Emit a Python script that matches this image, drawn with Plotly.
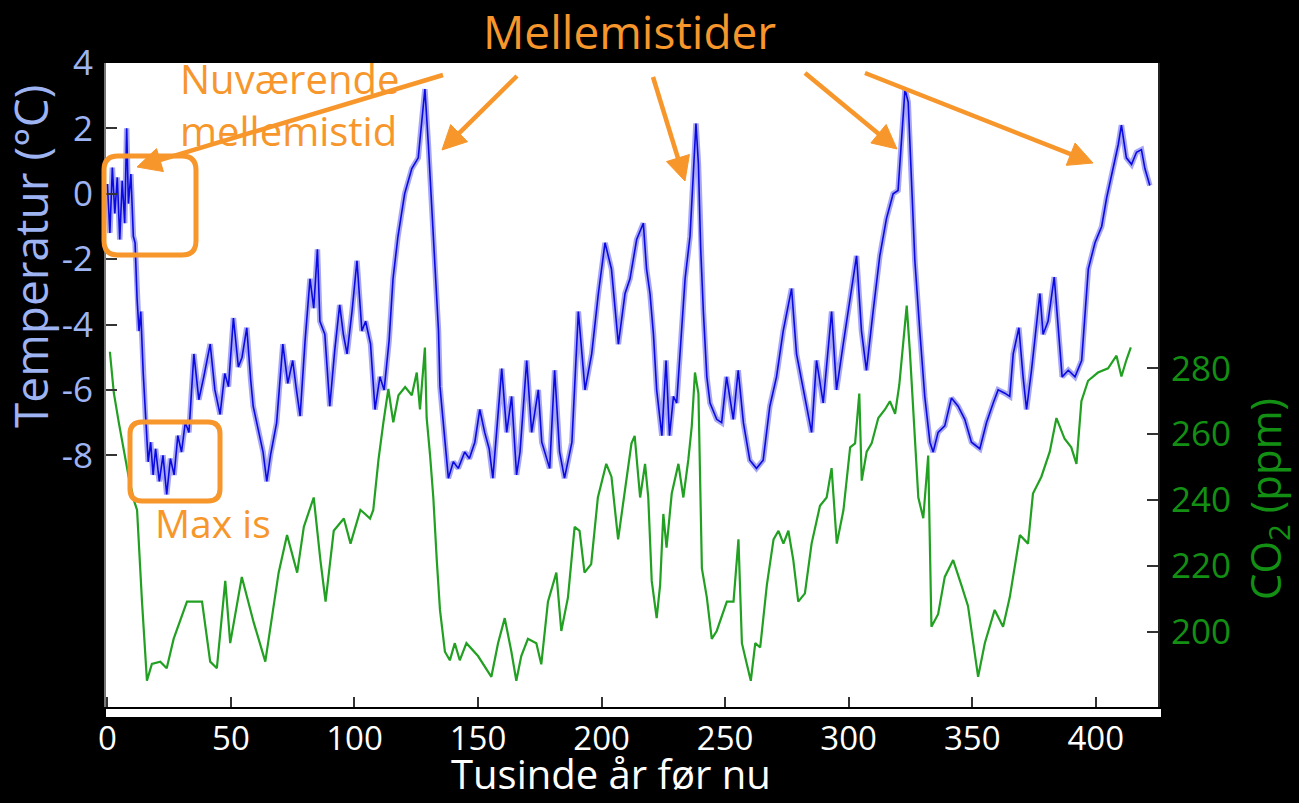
import math
import plotly.graph_objects as go

# Vostok ice core: temperature anomaly (°C) vs. thousands of years before present
temp_age = [0, 1, 2, 3, 4, 5, 6, 7, 7.8, 8.5, 9.5, 10.5, 11.2, 12, 12.8, 13.5, 14.5, 15.5,
            16.5, 17.5, 18.5, 19.5, 21, 22.5, 24, 25.5, 27, 28.5, 30, 31.5, 33, 35, 37, 39,
            41.6, 43.5, 45.6, 47.5, 49, 51, 53, 54.5, 56.4, 58, 59, 61, 63, 64.5, 66, 68.5,
            71, 73, 75, 76.5, 78, 80, 82, 83.5, 85, 86, 88, 90, 92, 94, 95.5, 97, 99, 101,
            103, 104.5, 106.5, 108.3, 110.3, 112, 114, 115.6, 117.6, 120.3, 123.2, 125.8,
            127.3, 128.5, 129.9, 131.2, 132.5, 134, 134.6, 136, 138, 140, 142, 144.6, 146.5,
            148.7, 150.7, 152.7, 154.5, 156, 158, 159.6, 161.6, 163.6, 165.6, 167, 169.7,
            171.7, 174.4, 175.8, 179, 181, 183, 185, 188, 190.6, 193.3, 196, 198.7, 201.4,
            204, 206.8, 209.5, 211.5, 214.2, 216.9, 218.2, 219.6, 221, 222.3, 224.4, 226.1,
            227.5, 229.1, 230.4, 231.8, 233.8, 235.8, 237.2, 238.2, 239.2, 240.1, 241.2,
            242.6, 243.9, 246.6, 248.6, 250.6, 253.3, 255.3, 257.4, 260, 262.7, 265.4, 268.1,
            270.8, 273.5, 276.9, 278.9, 281.6, 285, 287, 289.7, 293.1, 295.1, 297.8, 300.5,
            303.2, 305.2, 307.2, 309.9, 312.6, 315.3, 318, 320, 321.4, 322.8, 324.1, 325.5,
            326.8, 328.8, 330.8, 332.9, 334.2, 336.2, 338.9, 341.6, 344.3, 347, 349.7, 353.1,
            355.8, 358.5, 360.5, 363.2, 365.2, 366.6, 368.9, 370.6, 372, 374, 376, 377.4,
            378.7, 380.7, 383.2, 384.8, 386.4, 388.9, 391.6, 394.3, 395.6, 397, 399.7, 402.4,
            404.4, 407.1, 409.1, 410.4, 412.4, 414.5, 416.5, 418.5, 419.9, 421.9]
temp_c = [0.3, -1.2, 0.8, -0.6, 0.5, -1.4, 0.4, -0.9, 2.0, -0.3, 0.6, -1.3, -1.5, -3.2, -4.2,
          -3.6, -5.5, -7.0, -8.2, -7.6, -8.6, -7.8, -8.8, -8.0, -9.2, -8.1, -8.6, -7.4, -7.9,
          -7.0, -7.3, -4.9, -6.3, -5.6, -4.6, -6.0, -6.75, -5.5, -5.9, -3.8, -5.3, -5.0, -4.1,
          -5.7, -6.5, -7.2, -7.9, -8.8, -8.0, -7.0, -4.6, -5.8, -5.1, -6.0, -6.8, -4.5, -2.6,
          -3.5, -1.7, -3.9, -4.3, -6.5, -4.8, -3.4, -4.3, -4.9, -3.6, -2.05, -4.2, -3.9, -4.6,
          -6.6, -5.6, -6.0, -4.5, -2.6, -1.3, 0.0, 0.77, 1.1, 2.3, 3.2, 1.5, -0.3, -2.3, -4.2,
          -5.9, -7.1, -8.7, -8.2, -8.4, -7.9, -8.1, -7.6, -6.6, -7.3, -7.8, -8.7, -6.9, -5.35,
          -7.3, -6.2, -8.6, -7.9, -5.1, -7.3, -6.0, -7.6, -8.4, -5.4, -7.9, -8.7, -7.6, -3.6,
          -6.0, -4.9, -3.05, -1.5, -2.3, -4.6, -3.05, -2.6, -1.4, -0.9, -2.3, -3.05, -4.3,
          -6.0, -7.4, -5.1, -7.4, -6.2, -6.4, -4.9, -2.6, -1.3, 0.5, 2.15, 0.9, -1.65, -3.6,
          -5.6, -6.4, -6.9, -7.0, -5.6, -6.9, -5.4, -7.0, -8.15, -8.4, -8.15, -6.5, -5.6,
          -4.2, -2.9, -4.9, -6.0, -7.3, -5.1, -6.4, -3.6, -6.0, -4.6, -3.3, -1.9, -4.2, -5.4,
          -3.6, -1.9, -0.76, 0.0, 0.1, 1.5, 3.2, 2.8, 0.3, -2.05, -4.2, -6.2, -7.6, -7.9,
          -7.3, -7.1, -6.25, -6.5, -6.9, -7.6, -7.8, -7.0, -6.4, -6.0, -6.1, -6.2, -4.9, -4.1,
          -5.6, -6.6, -5.4, -3.9, -3.05, -4.3, -3.9, -2.55, -4.1, -5.6, -5.4, -5.6, -5.1,
          -3.6, -2.3, -1.5, -1.0, -0.13, 0.77, 1.5, 2.1, 1.1, 0.9, 1.27, 1.35, 0.77, 0.25]

# CO2 concentration (ppm)
co2_age = [1, 2.6, 4.6, 6.6, 8.6, 10.7, 12, 14, 16, 18, 21.4, 24, 26.8, 32.2, 38.3, 41.6, 44.3,
           47.7, 49.7, 54.4, 59.2, 63.9, 69.3, 72.7, 76.8, 79.5, 83.5, 86.2, 88.3, 91.6, 95.7,
           98.4, 102.4, 104.3, 106.3, 107.6, 109.7, 111.7, 113.7, 115.7, 117.8, 120.5, 123.2,
           125.2, 126.5, 128.5, 129.2, 130.6, 131.9, 133.3, 134.6, 136.6, 138.6, 140.6, 142.6,
           145.3, 150, 155.4, 158.1, 160.8, 163.5, 165.5, 167.5, 170.2, 173.6, 175.6, 178.3,
           181.7, 183.7, 186.4, 189.1, 191.1, 193.1, 195.8, 198.5, 201.9, 204, 206.7, 209.4,
           212.1, 213.4, 215.6, 217.6, 218.9, 220.3, 222.3, 223.7, 225, 226.3, 228.4, 231.1,
           233.1, 235.1, 236.5, 237.8, 239.2, 240.6, 242.6, 244.6, 246.6, 250.7, 253.4, 255.4,
           256.8, 258.8, 260.4, 262.2, 264.2, 266.9, 269.6, 271.6, 273.6, 275.6, 277.6, 279.6,
           282.3, 285, 288.4, 291.1, 293.1, 295.2, 297.9, 300.6, 302.6, 304.3, 305.3, 307.3,
           309.3, 312, 314.7, 316.7, 318.8, 320.5, 322.1, 323.5, 324.8, 326.2, 328.2, 330.2,
           332.2, 333.5, 336.2, 338.9, 342.3, 345.6, 348.3, 352.4, 355.1, 359.1, 362.5, 365.2,
           369.3, 372.6, 374.6, 378, 381.4, 384.1, 387.4, 390.1, 392.2, 394.2, 396.9, 400.9,
           405, 408.4, 410.4, 412.4, 414.2]
co2_ppm = [285.0, 272.5, 263.6, 254.7, 247.1, 240, 237, 209.2, 185.2, 190.3, 191, 189, 197.9,
           209.2, 209.2, 191, 189, 215.5, 196.6, 216.7, 202.9, 191, 218, 229.4, 218, 231.9,
           240.8, 221.8, 209.2, 230.7, 234.4, 226.8, 237, 235.8, 234.4, 237, 252.2, 263.6,
           273.7, 263.6, 271.8, 274.3, 271.8, 278.7, 267.5, 286.3, 265, 253.5, 240.8, 221.8,
           206.7, 194, 191.4, 196.6, 191.4, 196.6, 192.7, 186.4, 196.6, 204.2, 194, 185.2,
           192.7, 197.9, 196.6, 190.2, 209.2, 218, 200.3, 210.5, 231.9, 230.7, 218, 220.6,
           240.8, 251, 247.1, 228.1, 243.3, 257.2, 259.5, 240.8, 251, 240.8, 215.5, 204.2,
           214.3, 235.8, 225.6, 242, 251, 240.8, 252.2, 262.4, 278.7, 272.3, 219.3, 210.5,
           197.9, 200.3, 209.2, 209.2, 228.1, 196.6, 190.2, 185.2, 196.6, 195.3, 214.3, 228.1,
           230.7, 226.8, 230.7, 221.8, 209.2, 211.7, 226.8, 238.3, 240.8, 249.7, 226.8, 237,
           256, 257.2, 272.3, 245.9, 254.7, 257.2, 264.9, 267.5, 270, 266.2, 275, 287.6, 299,
           284.8, 266.2, 240.8, 234.5, 253.5, 201.6, 205.4, 216.7, 221.8, 214.3, 207.9, 186.4,
           196.6, 206.7, 201.6, 210.5, 229.4, 226.8, 242, 247.1, 254.7, 264.9, 258.6, 256,
           251, 270, 276.2, 278.7, 280, 283.8, 277.5, 282.5, 286.3]

x_ticks = [0, 50, 100, 150, 200, 250, 300, 350, 400]
temp_ticks = [-8, -6, -4, -2, 0, 2, 4]
temp_tick_text = ["-8", "-6", "-4", "-2", "0", "2", "4"]
co2_ticks = [200, 220, 240, 260, 280]

W, H = 1299, 803
L, R, T, B = 106, 1158, 63, 707          # plot area in page pixels

ORANGE = "#F7962B"
TEMP_COL = "#9DB3F2"
CO2_COL = "#138F13"
FONT = "Open Sans, Lato, DejaVu Sans, sans-serif"


def px(x):
    return (x - L) / (R - L)


def py(y):
    return (B - y) / (B - T)


def pt(x, y):
    return f"{px(x):.5f},{py(y):.5f}"


def rounded_rect(x0, y0, x1, y1, r):
    return (f"M {pt(x0 + r, y0)} L {pt(x1 - r, y0)} Q {pt(x1, y0)} {pt(x1, y0 + r)} "
            f"L {pt(x1, y1 - r)} Q {pt(x1, y1)} {pt(x1 - r, y1)} L {pt(x0 + r, y1)} "
            f"Q {pt(x0, y1)} {pt(x0, y1 - r)} L {pt(x0, y0 + r)} Q {pt(x0, y0)} {pt(x0 + r, y0)} Z")


def arrow_shapes(tail, head, head_len=24, head_half=12, width=4.5):
    (tx, ty), (hx, hy) = tail, head
    d = math.hypot(hx - tx, hy - ty)
    ux, uy = (hx - tx) / d, (hy - ty) / d
    nx, ny = -uy, ux
    bx, by = hx - ux * head_len, hy - uy * head_len
    shaft = dict(type="line", xref="paper", yref="paper",
                 x0=px(tx), y0=py(ty), x1=px(bx + ux * 2), y1=py(by + uy * 2),
                 line=dict(color=ORANGE, width=width))
    tip = dict(type="path", xref="paper", yref="paper",
               path=f"M {pt(hx, hy)} L {pt(bx + nx * head_half, by + ny * head_half)} "
                    f"L {pt(bx - nx * head_half, by - ny * head_half)} Z",
               fillcolor=ORANGE, line=dict(color=ORANGE, width=1))
    return [shaft, tip]


fig = go.Figure()

# temperature: soft wide band under a sharp core line
fig.add_trace(go.Scatter(x=temp_age, y=temp_c, mode="lines", yaxis="y",
                         line=dict(color="rgba(60,60,232,0.45)", width=5.5),
                         hoverinfo="skip", showlegend=False))
fig.add_trace(go.Scatter(x=temp_age, y=temp_c, mode="lines", yaxis="y",
                         line=dict(color="#0a0ae0", width=1.6),
                         showlegend=False))
fig.add_trace(go.Scatter(x=co2_age, y=co2_ppm, mode="lines", yaxis="y2",
                         line=dict(color="#22A022", width=2.2),
                         showlegend=False))

shapes = [
    # white strip under the x axis line
    dict(type="rect", xref="paper", yref="paper", x0=px(106), x1=px(1161),
         y0=py(717), y1=py(709), fillcolor="white", line=dict(width=0), layer="above"),
    dict(type="path", xref="paper", yref="paper", path=rounded_rect(104, 156, 196, 255, 14),
         line=dict(color=ORANGE, width=5)),
    dict(type="path", xref="paper", yref="paper", path=rounded_rect(130, 422, 220, 501, 12),
         line=dict(color=ORANGE, width=5)),
]

# arrows: (tail, head) in page pixels
arrows = [((443, 75), (137, 167)), ((517, 76), (442, 150)), ((653, 77), (685, 181)),
          ((805, 73), (897, 149)), ((865, 73), (1093, 163))]
for tail, head in arrows:
    shapes.extend(arrow_shapes(tail, head))

annotations = [
    dict(text="Mellemistider", x=px(629), y=py(31), xref="paper", yref="paper",
         xanchor="center", yanchor="middle", showarrow=False,
         font=dict(family=FONT, size=46, color=ORANGE)),
    dict(text="Nuværende<br>mellemistid", x=px(178), y=py(105), xref="paper", yref="paper",
         xanchor="left", yanchor="middle", align="left", showarrow=False,
         font=dict(family=FONT, size=40, color=ORANGE)),
    dict(text="Max is", x=px(153), y=py(522), xref="paper", yref="paper",
         xanchor="left", yanchor="middle", showarrow=False,
         font=dict(family=FONT, size=39, color=ORANGE)),
    dict(text="Temperatur (°C)", x=px(30), y=py(257), xref="paper", yref="paper",
         xanchor="center", yanchor="middle", textangle=-90, showarrow=False,
         font=dict(family=FONT, size=46, color=TEMP_COL)),
    dict(text="CO<sub>2</sub> (ppm)", x=px(1267), y=py(499), xref="paper", yref="paper",
         xanchor="center", yanchor="middle", textangle=-90, showarrow=False,
         font=dict(family=FONT, size=42, color=CO2_COL)),
    dict(text="Tusinde år før nu", x=px(611), y=py(803), xref="paper", yref="paper",
         xanchor="center", yanchor="bottom", showarrow=False,
         font=dict(family=FONT, size=40, color="white")),
]

fig.update_layout(
    width=W, height=H, autosize=False,
    margin=dict(l=L, r=W - R, t=T, b=H - B, pad=0),
    paper_bgcolor="black", plot_bgcolor="white",
    showlegend=False,
    xaxis=dict(range=[-0.57, 425.2], tickvals=x_ticks, ticks="inside", ticklen=10,
               tickwidth=2, tickcolor="#333", showline=True, linecolor="black",
               linewidth=3, showgrid=False, zeroline=False,
               tickfont=dict(family=FONT, size=33, color="white"), ticklabelstandoff=0),
    yaxis=dict(range=[-15.70, 4.0], tickvals=temp_ticks, ticktext=temp_tick_text,
               ticks="inside", ticklen=11,
               tickwidth=2, tickcolor="#333", showline=True, linecolor="#777",
               linewidth=2, showgrid=False, zeroline=False,
               tickfont=dict(family=FONT, size=35, color=TEMP_COL), ticklabelstandoff=4),
    yaxis2=dict(range=[177.24, 372.6], tickvals=co2_ticks, overlaying="y", side="right",
                anchor="x", ticks="inside", ticklen=11, tickwidth=2, tickcolor="#333",
                showline=True, linecolor="#222", linewidth=2, showgrid=False,
                zeroline=False, tickfont=dict(family=FONT, size=35, color=CO2_COL),
                ticklabelstandoff=4),
    shapes=shapes,
    annotations=annotations,
)

fig.write_html("out.html")
